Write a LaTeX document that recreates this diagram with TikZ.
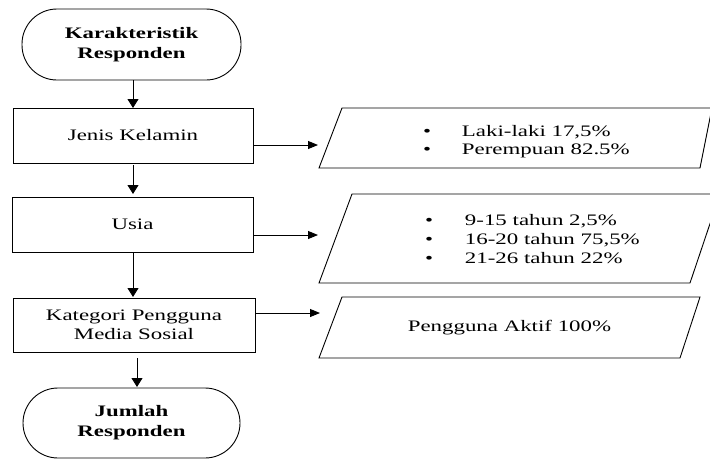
\documentclass[tikz,border=0pt]{standalone}
\usepackage{fontspec}
\setmainfont[FakeStretch=1.43]{Liberation Serif}
\usetikzlibrary{arrows.meta}
\begin{document}
\begin{tikzpicture}[x=1pt,y=-1pt,
  line width=0.9pt,
  every node/.style={font=\fontsize{16}{19}\selectfont, inner sep=0pt, outer sep=0pt},
  terminal/.style={draw, rounded corners=35pt, align=center,
    font=\fontsize{16}{20}\selectfont\bfseries},
  stepbox/.style={draw, align=center},
  datashape/.style={draw},
  varrow/.style={-{Triangle[length=9pt,width=11pt]}},
  harrow/.style={-{Triangle[length=10pt,width=8pt]}},
  item/.style={anchor=base west}]
\path[use as bounding box, clip] (0,0) rectangle (710,459);

% main flow
\node[terminal, minimum width=219pt, minimum height=71pt] (start) at (131.5,44.5)
  {Karakteristik\\Responden};
\node[stepbox, minimum width=240pt, minimum height=55pt] (jk) at (133,135.5)
  {Jenis Kelamin};
\node[stepbox, minimum width=241pt, minimum height=55pt] (usia) at (132.5,224.5)
  {Usia};
\node[stepbox, minimum width=242pt, minimum height=54pt] (kat) at (134,325)
  {Kategori Pengguna\\Media Sosial};
\node[terminal, minimum width=217pt, minimum height=70pt] (end) at (131.5,423)
  {Jumlah\\Responden};

% data shapes
\draw[datashape] (342,108) -- (712,108) -- (700,168) -- (319,168) -- cycle;
\draw[datashape] (352,194) -- (720,194) -- (690,283) -- (319,283) -- cycle;
\draw[datashape] (342,297) -- (700,297) -- (680,358) -- (319,358) -- cycle;

\node[item] (l1) at (423,136) {\makebox[39pt][l]{\textbullet}Laki-laki 17,5\%};
\node[item] (l2) at (423,154) {\makebox[39pt][l]{\textbullet}Perempuan 82.5\%};
\node[item] (u1) at (425,225) {\makebox[40pt][l]{\textbullet}9-15 tahun 2,5\%};
\node[item] (u2) at (425,244) {\makebox[40pt][l]{\textbullet}16-20 tahun 75,5\%};
\node[item] (u3) at (425,263) {\makebox[40pt][l]{\textbullet}21-26 tahun 22\%};
\node (aktif) at (509.5,328) {Pengguna Aktif 100\%};

\coordinate (p1in) at (318,145);
\coordinate (p2in) at (318,235);
\coordinate (p3in) at (320,313);

% connectors
\draw[varrow] (start.south -| 133,0) -- (jk.north -| 133,0);
\draw[varrow, shorten <=2pt, shorten >=3pt] (jk.south) -- (jk.south |- usia.north);
\draw[varrow, shorten >=1pt] (usia.south -| 133,0) -- (kat.north -| 133,0);
\draw[varrow, shorten <=6pt, shorten >=1pt] (kat.south -| 137,0) -- (end.north -| 137,0);

\draw[harrow] (jk.east |- p1in) -- (p1in);
\draw[harrow] (usia.east |- p2in) -- (p2in);
\draw[harrow] (kat.east |- p3in) -- (p3in);
\end{tikzpicture}
\end{document}
